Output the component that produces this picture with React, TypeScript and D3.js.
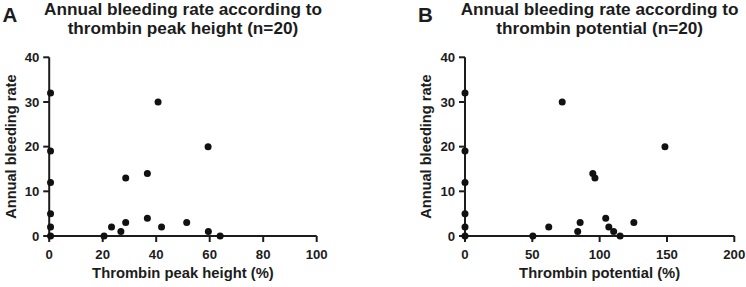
import React from "react";
import * as d3 from "d3";

// Panel A: thrombin peak height (%) vs annual bleeding rate
const peakX = [0.5, 0.5, 0.5, 0.5, 0.5, 0.5, 20.5, 23.3, 26.8, 28.6, 28.6, 36.7, 36.7, 40.7, 42, 51.4, 59.4, 59.5, 63.9];
const peakY = [32, 19, 12, 5, 2, 0, 0, 2, 1, 3, 13, 14, 4, 30, 2, 3, 20, 1, 0];

// Panel B: thrombin potential (%) vs annual bleeding rate
const potX = [0, 0, 0, 0, 0, 0, 50.4, 62.2, 72.2, 83.7, 85.5, 94.9, 96.5, 104.5, 106.8, 110.4, 115.2, 125.4, 148.5];
const potY = [32, 19, 12, 5, 2, 0, 0, 2, 30, 1, 3, 14, 13, 4, 2, 1, 0, 3, 20];

const yTicks = [0, 10, 20, 30, 40];
const peakTicks = [0, 20, 40, 60, 80, 100];
const potTicks = [0, 50, 100, 150, 200];

const FONT = "'Liberation Sans', Arial, Helvetica, sans-serif";
const INK = "#1c1c1c";

type PanelProps = {
  letter: string;
  letterX: number;
  title: [string, string];
  xLabel: string;
  xs: number[];
  ys: number[];
  xTicks: number[];
  xMax: number;
  x0: number;
  x1: number;
  yLabelX: number;
};

function Panel(p: PanelProps) {
  const x = d3.scaleLinear().domain([0, p.xMax]).range([p.x0, p.x1]);
  const y = d3.scaleLinear().domain([0, 40]).range([236, 57.3]);
  const cx = (p.x0 + p.x1) / 2;
  const cy = (y(0) + y(40)) / 2;
  const tickLen = 6;
  return (
    <g fontFamily={FONT} fontWeight="bold" fill={INK}>
      <text x={p.letterX} y={21.7} fontSize={20.5}>{p.letter}</text>
      <text x={cx} y={14.5} fontSize={17.2} textAnchor="middle">{p.title[0]}</text>
      <text x={cx} y={33.5} fontSize={17.2} textAnchor="middle">{p.title[1]}</text>
      {/* axes */}
      <line x1={p.x0} x2={p.x0} y1={y(40)} y2={y(0) + 1} stroke={INK} strokeWidth={2} />
      <line x1={p.x0 - 1} x2={p.x1} y1={y(0)} y2={y(0)} stroke={INK} strokeWidth={2} />
      {yTicks.map((t) => (
        <g key={"y" + t}>
          <line x1={p.x0 - tickLen} x2={p.x0} y1={y(t)} y2={y(t)} stroke={INK} strokeWidth={2} />
          <text x={p.x0 - 9.8} y={y(t) + 4.6} fontSize={13.2} textAnchor="end">{t}</text>
        </g>
      ))}
      {p.xTicks.map((t) => (
        <g key={"x" + t}>
          <line x1={x(t)} x2={x(t)} y1={y(0)} y2={y(0) + tickLen} stroke={INK} strokeWidth={2} />
          <text x={x(t)} y={259} fontSize={13.2} textAnchor="middle">{t}</text>
        </g>
      ))}
      <text x={cx} y={278} fontSize={14.8} textAnchor="middle">{p.xLabel}</text>
      <text
        transform={`translate(${p.yLabelX},${cy}) rotate(-90)`}
        fontSize={14.6}
        textAnchor="middle"
      >
        Annual bleeding rate
      </text>
      {p.xs.map((v, i) => (
        <circle key={i} cx={x(v)} cy={y(p.ys[i])} r={3.5} fill="#111" />
      ))}
    </g>
  );
}

export default function App() {
  return (
    <svg
      width={746}
      height={287}
      viewBox="0 0 746 287"
      style={{ position: "absolute", left: 0, top: 0, background: "#fff" }}
    >
      <rect width={746} height={287} fill="#fff" />
      <Panel
        letter="A"
        letterX={2.5}
        title={["Annual bleeding rate according to", "thrombin peak height (n=20)"]}
        xLabel="Thrombin peak height (%)"
        xs={peakX}
        ys={peakY}
        xTicks={peakTicks}
        xMax={100}
        x0={49.2}
        x1={316.7}
        yLabelX={15.5}
      />
      <Panel
        letter="B"
        letterX={418}
        title={["Annual bleeding rate according to", "thrombin potential (n=20)"]}
        xLabel="Thrombin potential (%)"
        xs={potX}
        ys={potY}
        xTicks={potTicks}
        xMax={200}
        x0={465}
        x1={734.3}
        yLabelX={431}
      />
    </svg>
  );
}
